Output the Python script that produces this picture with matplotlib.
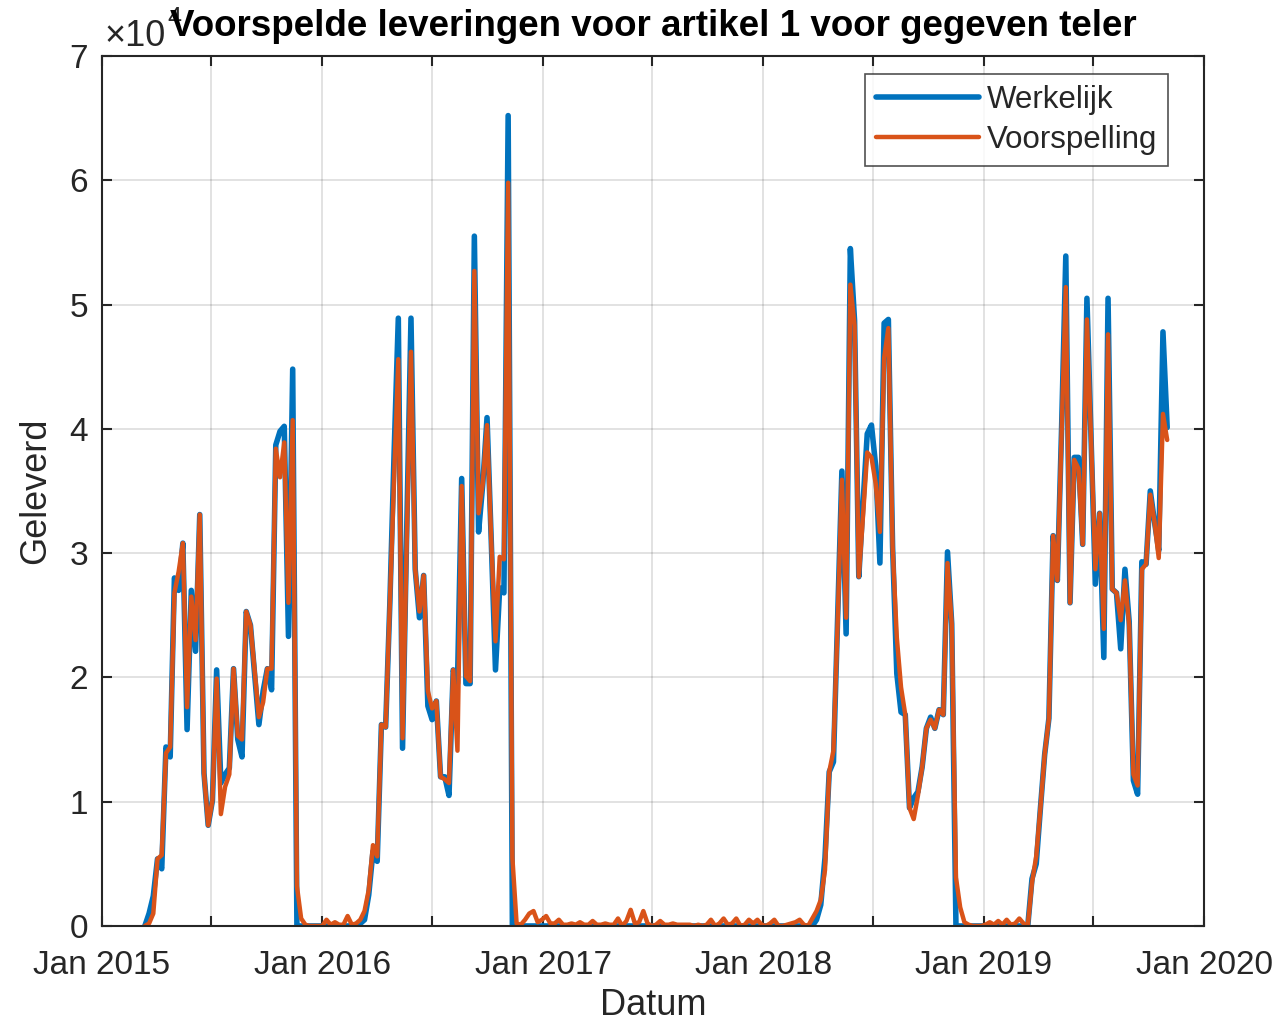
import matplotlib
matplotlib.use("Agg")
import matplotlib.pyplot as plt
import pandas as pd

# weekly deliveries (x 10^4), one value per week starting 2015-03-13
werkelijk = [
    # season 2015
    0, 0.10, 0.24, 0.54, 0.46, 1.44, 1.36, 2.80, 2.70, 3.08,
    1.58, 2.70, 2.21, 3.31, 1.23, 0.81, 1.01, 2.06, 1.15, 1.22,
    1.27, 2.07, 1.50, 1.36, 2.53, 2.42, 2.02, 1.62, 1.89, 2.07,
    1.90, 3.87, 3.98, 4.02, 2.33, 4.48, 0,
    # winter 2015/16
    0, 0, 0, 0, 0, 0, 0, 0, 0, 0, 0, 0, 0, 0,
    # season 2016
    0.02, 0.05, 0.25, 0.60, 0.52, 1.62, 1.60, 2.6, 3.8, 4.89,
    1.43, 3.2, 4.89, 2.87, 2.48, 2.82, 1.77, 1.66, 1.81, 1.20,
    1.20, 1.05, 2.06, 1.95, 3.60, 1.95, 1.95, 5.55, 3.17, 3.56,
    4.09, 3.1, 2.06, 2.72, 2.68, 6.52, 0,
    # 2017
    0, 0, 0, 0, 0, 0, 0, 0, 0, 0,
    0, 0, 0, 0, 0, 0, 0, 0, 0, 0,
    0, 0, 0, 0, 0, 0, 0, 0, 0, 0,
    0, 0, 0, 0, 0, 0, 0, 0, 0, 0,
    0, 0, 0, 0, 0, 0, 0, 0, 0, 0,
    0, 0, 0, 0, 0, 0, 0, 0, 0, 0,
    0, 0, 0, 0, 0, 0, 0, 0, 0, 0, 0,
    # season 2018
    0.05, 0.17, 0.55, 1.24, 1.32, 2.5, 3.66, 2.35, 5.45, 4.87,
    2.81, 3.4, 3.96, 4.03, 3.70, 2.92, 4.85, 4.88, 3.05, 2.03,
    1.72, 1.70, 0.95, 1.03, 1.08, 1.28, 1.59, 1.68, 1.59, 1.74,
    1.70, 3.01, 2.43, 0,
    # winter 2018/19
    0, 0, 0, 0, 0, 0, 0, 0, 0, 0, 0, 0, 0, 0, 0, 0, 0,
    # season 2019
    0.38, 0.50, 0.95, 1.38, 1.67, 3.14, 2.78, 4.0, 5.39, 2.6,
    3.77, 3.77, 3.07, 5.05, 3.9, 2.75, 3.32, 2.16, 5.05, 2.71,
    2.68, 2.23, 2.87, 2.45, 1.17, 1.06, 2.93, 2.91, 3.50, 3.25,
    3.02, 4.78, 4.01,
]

voorspelling = [
    # season 2015
    0, 0.02, 0.10, 0.54, 0.57, 1.39, 1.44, 2.68, 2.85, 3.08,
    1.76, 2.65, 2.30, 3.31, 1.23, 0.81, 1.01, 1.99, 0.90, 1.12,
    1.22, 2.07, 1.53, 1.50, 2.53, 2.42, 2.05, 1.68, 1.80, 2.07,
    2.07, 3.84, 3.61, 3.89, 2.60, 4.07, 0.32,
    # winter 2015/16
    0.06, 0.01, 0.00, 0.00, 0.00, 0.00, 0.05, 0.01, 0.03, 0.01,
    0.01, 0.08, 0.01, 0.02,
    # season 2016
    0.05, 0.12, 0.29, 0.65, 0.56, 1.62, 1.60, 2.6, 3.6, 4.56,
    1.51, 3.1, 4.62, 2.87, 2.53, 2.82, 1.89, 1.75, 1.81, 1.20,
    1.18, 1.15, 2.06, 1.41, 3.54, 2.01, 1.97, 5.27, 3.32, 3.56,
    4.03, 3.1, 2.29, 2.97, 2.95, 5.98, 0.55,
    # 2017
    0.02, 0.01, 0.05, 0.10, 0.12, 0.03, 0.05, 0.08, 0.02, 0.02,
    0.05, 0.01, 0.01, 0.02, 0.01, 0.03, 0.01, 0.01, 0.04, 0.01,
    0.01, 0.02, 0.01, 0.01, 0.06, 0.00, 0.04, 0.13, 0.02, 0.03,
    0.12, 0.02, 0.00, 0.01, 0.04, 0.01, 0.01, 0.02, 0.01, 0.01,
    0.01, 0.01, 0.00, 0.01, 0.00, 0.01, 0.05, 0.00, 0.02, 0.06,
    0.01, 0.02, 0.06, 0.00, 0.01, 0.05, 0.02, 0.05, 0.01, 0.00,
    0.02, 0.05, 0.00, 0.00, 0.01, 0.02, 0.03, 0.05, 0.01, 0.00, 0.06,
    # season 2018
    0.12, 0.21, 0.45, 1.24, 1.41, 2.45, 3.59, 2.48, 5.16, 4.83,
    2.81, 3.3, 3.81, 3.77, 3.56, 3.17, 4.57, 4.81, 3.05, 2.32,
    1.92, 1.70, 0.95, 0.86, 1.05, 1.28, 1.59, 1.66, 1.59, 1.74,
    1.70, 2.92, 2.43, 0.39,
    # winter 2018/19
    0.15, 0.03, 0.01, 0.00, 0.00, 0.00, 0.01, 0.03, 0.01, 0.04,
    0.01, 0.05, 0.01, 0.02, 0.06, 0.02, 0.00,
    # season 2019
    0.35, 0.56, 0.95, 1.38, 1.67, 3.14, 2.78, 3.95, 5.14, 2.6,
    3.75, 3.68, 3.07, 4.88, 3.9, 2.87, 3.32, 2.39, 4.76, 2.71,
    2.68, 2.46, 2.78, 2.42, 1.22, 1.13, 2.87, 2.91, 3.47, 3.25,
    2.96, 4.12, 3.91,
]

datum = pd.date_range("2015-03-13", periods=len(werkelijk), freq="7D")

tick_dates = pd.date_range("2015-01-01", "2020-01-01", freq="6MS")
tick_labels = [d.strftime("Jan %Y") if d.month == 1 else "" for d in tick_dates]

BLUE = "#0072BD"
ORANGE = "#D95319"
INK = "#262626"

plt.rcParams["font.family"] = ["Liberation Sans", "DejaVu Sans"]

fig = plt.figure(figsize=(12.78, 10.26), dpi=100)
ax = fig.add_axes([0.0798, 0.0975, 0.8623, 0.8480])

ax.plot(datum, werkelijk, color=BLUE, lw=4.0, label="Werkelijk",
        solid_joinstyle="round", solid_capstyle="round")
ax.plot(datum, voorspelling, color=ORANGE, lw=3.2, label="Voorspelling",
        solid_joinstyle="round", solid_capstyle="round")

ax.set_xlim(pd.Timestamp("2015-01-01"), pd.Timestamp("2020-01-01"))
ax.set_ylim(0, 7)
ax.set_xticks(tick_dates)
ax.set_xticklabels(tick_labels)
ax.set_yticks(range(8))

ax.grid(True, color=INK, alpha=0.15, lw=1.3)
ax.set_axisbelow(True)
for s in ax.spines.values():
    s.set_color(INK)
    s.set_linewidth(1.5)
ax.tick_params(direction="in", length=7, width=1.5, color=INK,
               labelcolor=INK, labelsize=24, top=True, right=True)
ax.tick_params(axis="x", pad=17)
ax.tick_params(axis="y", pad=10)

ax.set_xlabel("Datum", fontsize=26, color=INK, labelpad=5)
ax.set_ylabel("Geleverd", fontsize=26, color=INK, labelpad=12)

# MATLAB style exponent, partly hidden behind the title
ax.text(0.002, 1.002, "\u00d710", transform=ax.transAxes, fontsize=26,
        color=INK, ha="left", va="bottom", zorder=1)
ax.text(0.059, 1.03, "4", transform=ax.transAxes, fontsize=18,
        color=INK, ha="left", va="bottom", zorder=1)
ax.set_title("Voorspelde leveringen voor artikel 1 voor gegeven teler",
             fontsize=26.5, fontweight="bold", color="black", pad=14, zorder=5)

leg = ax.legend(loc="upper right", bbox_to_anchor=(0.9673, 0.9793),
                fontsize=22.5, frameon=True, fancybox=False, handlelength=3.3,
                borderpad=0.35, labelspacing=0.33, handletextpad=0.25,
                borderaxespad=0)
leg.get_frame().set_edgecolor(INK)
leg.get_frame().set_linewidth(1.2)
for t in leg.get_texts():
    t.set_color(INK)

fig.savefig("out.png", dpi=100)
